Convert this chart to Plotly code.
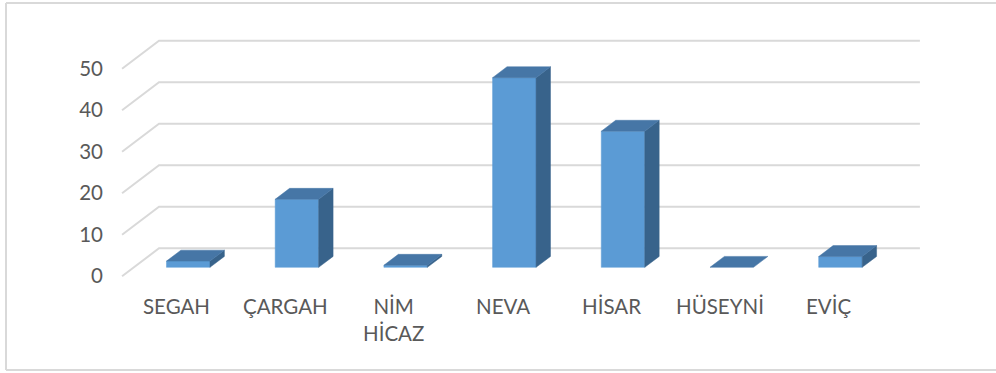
import plotly.graph_objects as go

# ---- data ----
categories = ["SEGAH", "ÇARGAH", "NİM<br>HİCAZ", "NEVA", "HİSAR", "HÜSEYNİ", "EVİÇ"]
values = [1.5, 16.4, 0.5, 45.7, 32.8, 0.0, 2.6]
tick_values = [0, 10, 20, 30, 40, 50]

# ---- style / geometry (in axis units) ----
FRONT = "#5B9BD5"
TOP = "#4676A6"
SIDE = "#38638B"
GRID = "#D9D9D9"
TEXT = "#595959"

WALL_DX, WALL_DY = 0.340, 6.75      # depth of the floor / wall
BAR_OFF = 0.32                      # bar front plane, fraction of depth
BAR_DEPTH = 0.39                    # bar depth, fraction of depth
HALF_W = 0.20

L, W, T, H = 104, 856, 20, 330
PX_PER_CAT, PX_PER_UNIT = 108.7, 4.15
X0_PX, Y0_PX = 176.4, 276.3          # pixel of category 0 / value 0 on front plane

x_range = [(L - X0_PX) / PX_PER_CAT, (L + W - X0_PX) / PX_PER_CAT]
y_range = [(Y0_PX - (T + H)) / PX_PER_UNIT, (Y0_PX - T) / PX_PER_UNIT]

fig = go.Figure()

n = len(categories)
x_left, x_right = -0.5, n - 0.5
# gridlines: front diagonal + back wall
for t in tick_values:
    fig.add_trace(go.Scatter(
        x=[x_left, x_left + WALL_DX, x_right + WALL_DX],
        y=[t, t + WALL_DY, t + WALL_DY],
        mode="lines", line=dict(color=GRID, width=2),
        hoverinfo="skip", showlegend=False))

ox, oy = BAR_OFF * WALL_DX, BAR_OFF * WALL_DY
ddx, ddy = BAR_DEPTH * WALL_DX, BAR_DEPTH * WALL_DY


def poly(xs, ys, color, name):
    fig.add_trace(go.Scatter(
        x=xs + [xs[0]], y=ys + [ys[0]], fill="toself", fillcolor=color,
        mode="lines", line=dict(color=color, width=0.5),
        hoverinfo="text", text=name, showlegend=False))


for i, (c, v) in enumerate(zip(categories, values)):
    xl, xr = i - HALF_W + ox, i + HALF_W + ox
    b = oy
    top = oy + v
    name = f"{c.replace('<br>', ' ')}: {v}"
    if v > 0:
        poly([xl, xr, xr, xl], [b, b, top, top], FRONT, name)
        poly([xr, xr + ddx, xr + ddx, xr], [b, b + ddy, top + ddy, top], SIDE, name)
    poly([xl, xr, xr + ddx, xl + ddx], [top, top, top + ddy, top + ddy], TOP, name)

annotations = []
for i, c in enumerate(categories):
    annotations.append(dict(
        x=i, y=(Y0_PX - 306) / PX_PER_UNIT, xref="x", yref="y",
        text=c, showarrow=False, yanchor="middle" if "<br>" not in c else "top",
        yshift=0 if "<br>" not in c else 14,
        font=dict(family="Lato", size=20.5, color=TEXT)))

# chart area frame (left, top, bottom edges)
def px_to_paper_x(px):
    return (px - L) / W


def px_to_paper_y(py):
    return (T + H - py) / H


fx0, fx1 = px_to_paper_x(6), px_to_paper_x(1020)
fy0, fy1 = px_to_paper_y(370), px_to_paper_y(3)
frame_line = dict(color=GRID, width=2)
shapes = [
    dict(type="line", xref="paper", yref="paper", x0=fx0, x1=fx0, y0=fy0, y1=fy1,
         line=frame_line, layer="below"),
    dict(type="line", xref="paper", yref="paper", x0=fx0, x1=fx1, y0=fy1, y1=fy1,
         line=frame_line, layer="below"),
    dict(type="line", xref="paper", yref="paper", x0=fx0, x1=fx1, y0=fy0, y1=fy0,
         line=frame_line, layer="below"),
]

fig.update_layout(
    width=996, height=373,
    margin=dict(l=L, r=996 - L - W, t=T, b=373 - T - H),
    paper_bgcolor="white", plot_bgcolor="white",
    xaxis=dict(range=x_range, visible=False, fixedrange=True),
    yaxis=dict(range=y_range, tickvals=tick_values, showgrid=False,
               zeroline=False, showline=False, ticks="",
               tickfont=dict(family="Lato", size=20.5, color=TEXT),
               fixedrange=True),
    annotations=annotations, shapes=shapes,
    showlegend=False,
)

fig.write_html("out.html", config={"displayModeBar": False},
               post_script="document.body.style.margin='0';document.body.style.overflow='hidden';")
